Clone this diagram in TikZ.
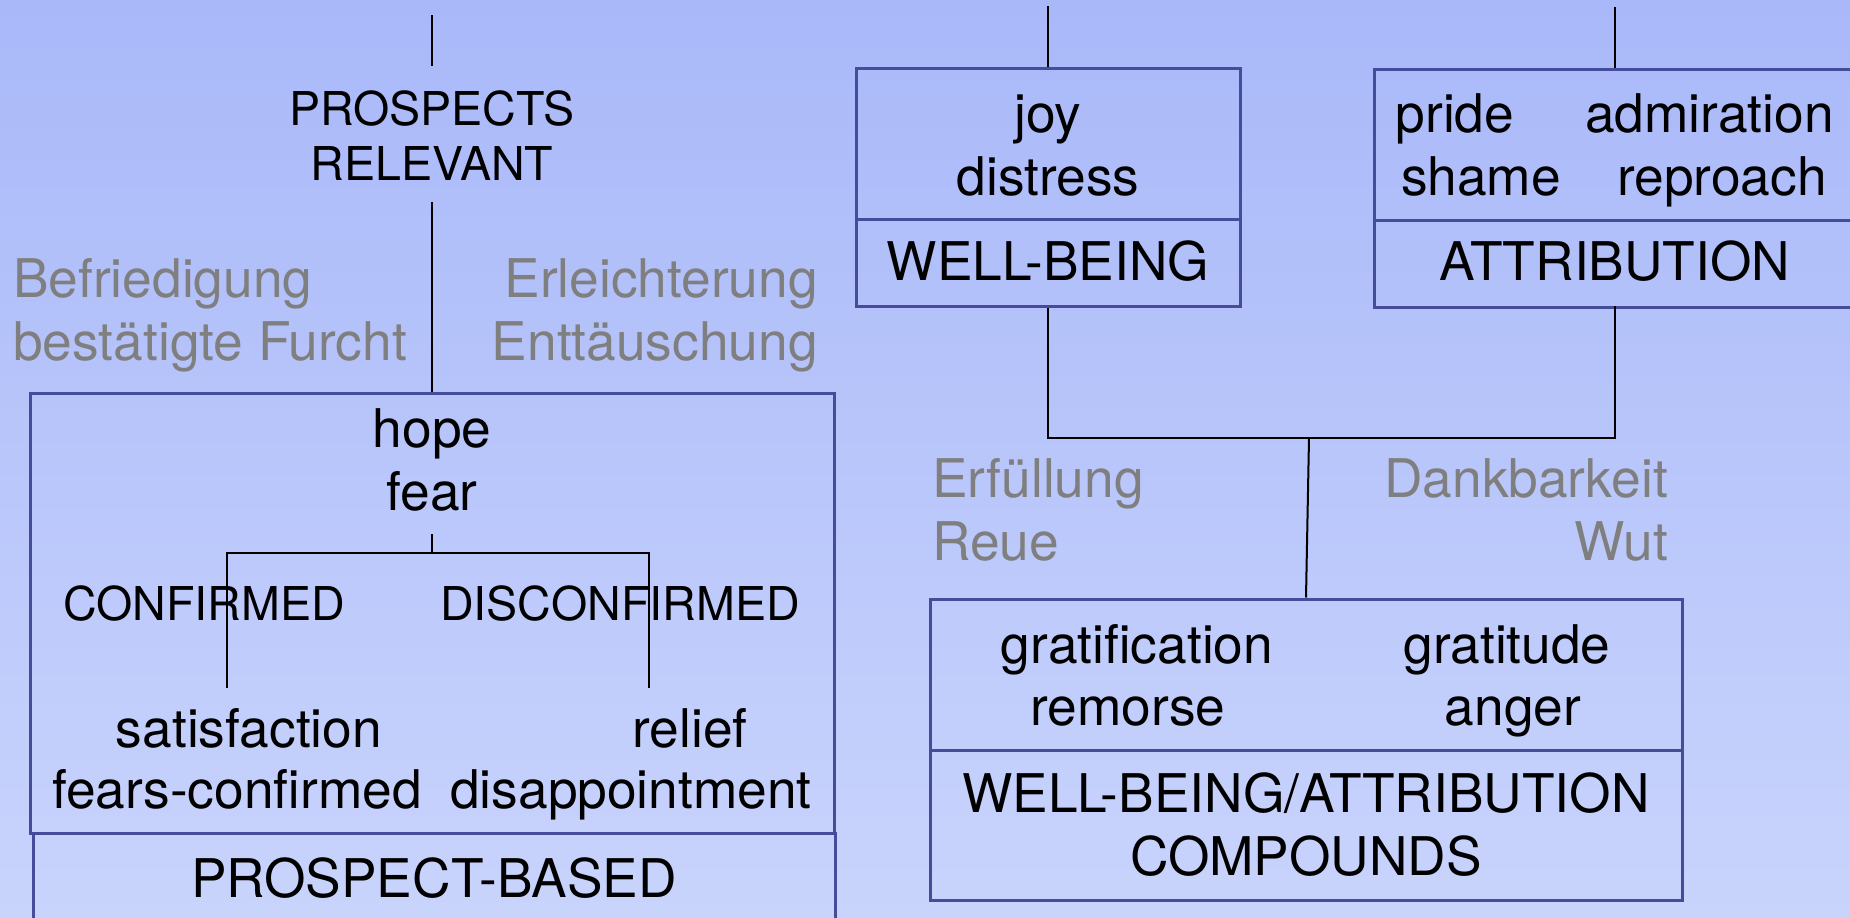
\documentclass[tikz,border=0pt]{standalone}
\usepackage{fontspec}
\setmainfont{TeX Gyre Heros}
\definecolor{bgtop}{HTML}{A9B8F9}
\definecolor{bgbot}{HTML}{C9D4FC}
\definecolor{boxc}{HTML}{454C9A}
\definecolor{grayt}{HTML}{7F7F7F}
\begin{document}
\begin{tikzpicture}[x=1pt,y=-1pt,
  big/.style={inner sep=0pt, anchor=base, font=\fontsize{53.3}{63}\selectfont},
  mid/.style={inner sep=0pt, anchor=base, font=\fontsize{46.6}{55}\selectfont},
  gr/.style={big, text=grayt},
  box/.style={draw=boxc, line width=3pt, rectangle, inner sep=0pt},
  conn/.style={draw=black, line width=2pt}]
\useasboundingbox (0,0) rectangle (1850,918);
\clip (0,0) rectangle (1850,918);
\shade[top color=bgtop, bottom color=bgbot] (0,0) rectangle (1850,918);

% ---------- left: prospect-based ----------
\coordinate (lt) at (432,15);
\node[mid] (prosp1) at (432,125) {PROSPECTS};
\node[mid] (prosp2) at (432,180) {RELEVANT};
\node[box, minimum width=804pt, minimum height=440pt] (lbox) at (432,613) {};
\node[box, minimum width=802pt, minimum height=127pt] (lbase) at (434,896.5) {};
\draw[conn, shorten >=24pt] (lt) -- (prosp1.north);
\draw[conn, shorten <=22pt] (prosp2.south) -- (lbox.north);

\node[gr, anchor=base west] (befr) at (13,297) {Befriedigung};
\node[gr, anchor=base west] (best) at (13,360) {bestätigte Furcht};
\node[gr, anchor=base east] (erle) at (818,297) {Erleichterung};
\node[gr, anchor=base east] (entt) at (818,360) {Enttäuschung};

\node[big] (hope) at (432,447) {hope};
\node[big] (fear) at (432,510) {fear};
\coordinate (fj) at (432,553);
\coordinate (cl) at (227,688);
\coordinate (cr) at (649,688);
\draw[conn, shorten <=23pt] (fear.south) -- (fj);
\draw[conn] (cl) |- (fj) -| (cr);
\node[mid] (conf) at (204,620) {CONFIRMED};
\node[mid] (disc) at (620,620) {DISCONFIRMED};
\node[big] (sat) at (249,747) {satisfaction};
\node[big] (fc) at (237,808) {fears-confirmed};
\node[big] (rel) at (690,747) {relief};
\node[big] (dis) at (631,808) {disappointment};
\node[big] (pb) at (434,897) {PROSPECT-BASED};

% ---------- right top: well-being ----------
\coordinate (wt) at (1048,6);
\node[box, minimum width=384pt, minimum height=151pt] (wbtop) at (1048,143.5) {};
\node[box, minimum width=384pt, minimum height=87pt] (wbbase) at (1048,262.5) {};
\draw[conn] (wt) -- (wbtop.north);
\node[big] (joy) at (1048,132) {joy};
\node[big] (distress) at (1048,195) {distress};
\node[big] (wb) at (1048,280) {WELL-BEING};

% ---------- right top: attribution ----------
\coordinate (at) at (1615,7);
\node[box, minimum width=500pt, minimum height=151pt, anchor=north west] (atttop) at (1373,68) {};
\node[box, minimum width=500pt, minimum height=87pt, anchor=north west] (attbase) at (1373,219) {};
\draw[conn] (at) -- (1615,68);
\node[big] (pride) at (1455,132) {pride};
\node[big] (admir) at (1709.5,132) {admiration};
\node[big] (shame) at (1481,195) {shame};
\node[big] (repr) at (1722,195) {reproach};
\node[big] (attr) at (1615,280) {ATTRIBUTION};

% ---------- compounds ----------
\coordinate (jm) at (1309,438);
\node[box, minimum width=752pt, minimum height=151pt] (cmptop) at (1306,674.5) {};
\node[box, minimum width=752pt, minimum height=150pt] (cmpbase) at (1306,825) {};
\draw[conn] (wbbase.south) |- (jm) -| (1615,306);
\draw[conn] (jm) -- (cmptop.north);
\node[gr, anchor=base west] (erf) at (932,497) {Erfüllung};
\node[gr, anchor=base west] (reue) at (932,560) {Reue};
\node[gr, anchor=base east] (dank) at (1668,497) {Dankbarkeit};
\node[gr, anchor=base east] (wut) at (1668,560) {Wut};
\node[big] (grat) at (1137,663) {gratification};
\node[big] (rem) at (1128,725) {remorse};
\node[big] (gratit) at (1507,663) {gratitude};
\node[big] (anger) at (1513,725) {anger};
\node[big] (wba) at (1306,812) {WELL-BEING/ATTRIBUTION};
\node[big] (comp) at (1306,875) {COMPOUNDS};
\end{tikzpicture}
\end{document}
